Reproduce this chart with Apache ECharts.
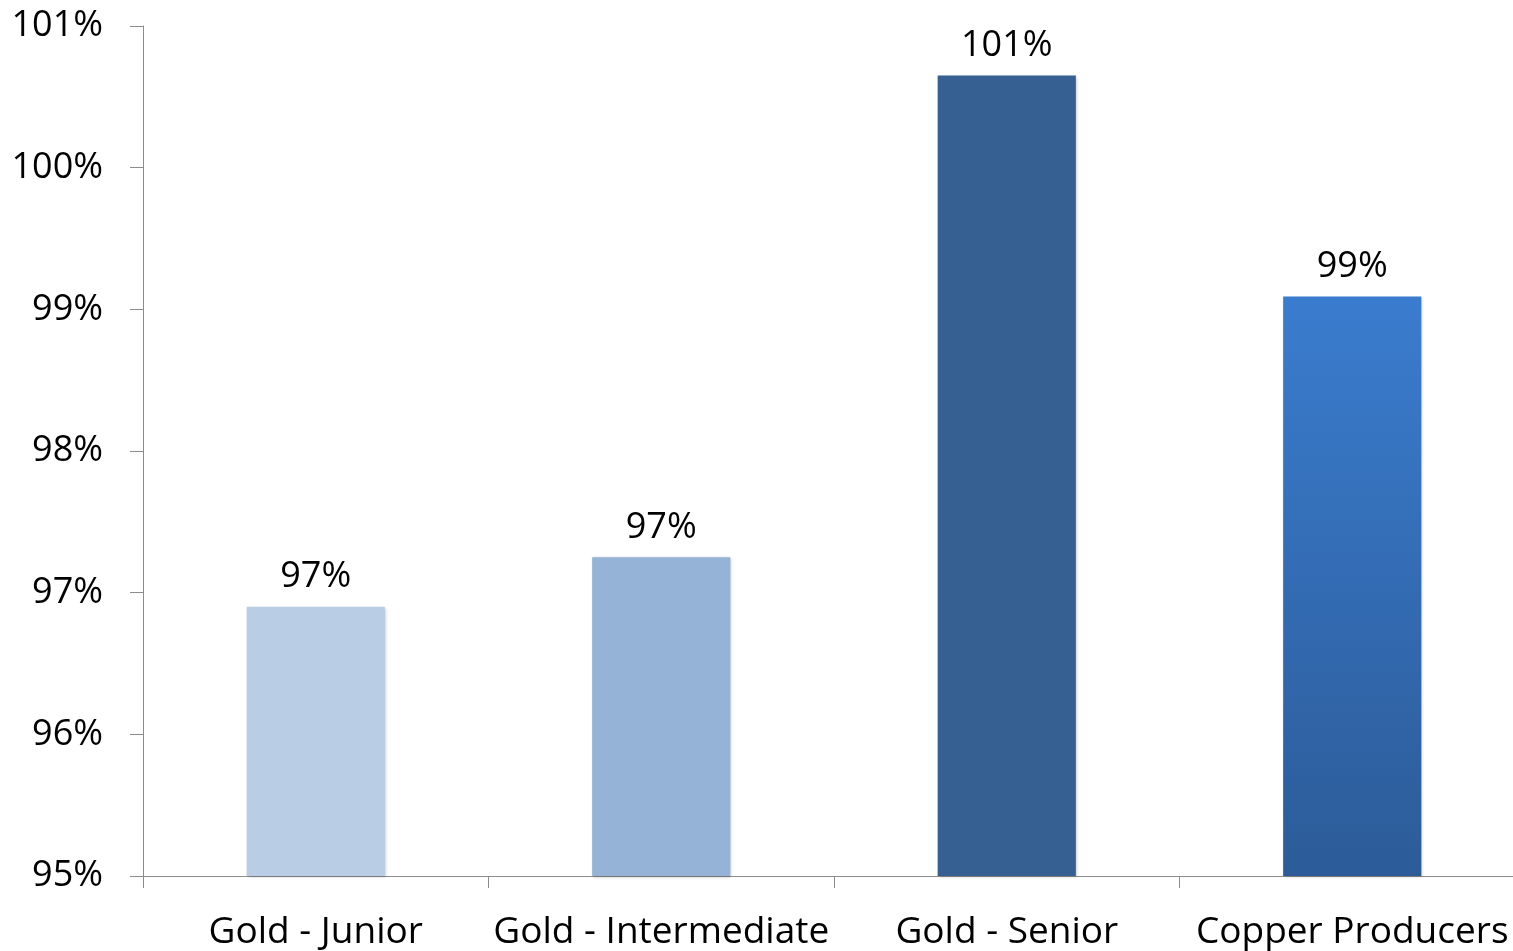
<!DOCTYPE html>
<html>
<head>
<meta charset="utf-8">
<script src="https://cdn.jsdelivr.net/npm/echarts@6/dist/echarts.min.js"></script>
<style>
html,body{margin:0;padding:0;background:#fff;overflow:hidden;}
#chart{width:1525px;height:951px;}
</style>
</head>
<body>
<div id="chart"></div>
<script>
const categories = ["Gold - Junior", "Gold - Intermediate", "Gold - Senior", "Copper Producers"];
const values = [96.90, 97.25, 100.65, 99.09];
const yTicks = [95, 96, 97, 98, 99, 100, 101];

const colors = [
  '#B9CDE5',
  '#95B3D7',
  '#376092',
  {type:'linear', x:0, y:0, x2:0, y2:1, colorStops:[{offset:0,color:'#3A7CCE'},{offset:1,color:'#2C5B98'}]}
];

const chart = echarts.init(document.getElementById('chart'));
const font = '"Open Sans", sans-serif';
chart.setOption({
  animation: false,
  grid: {left: 143, right: 0, top: 26, bottom: 75, containLabel: false},
  xAxis: {
    type: 'category',
    data: categories,
    axisLine: {lineStyle: {color: '#8C8C8C', width: 1}},
    axisTick: {show: true, alignWithLabel: false, length: 12, lineStyle: {color: '#8C8C8C'}},
    axisLabel: {color: '#000', fontFamily: font, fontSize: 37, margin: 38, interval: 0}
  },
  yAxis: {
    type: 'value',
    min: yTicks[0], max: yTicks[yTicks.length-1], interval: 1,
    splitLine: {show: false},
    axisLine: {show: true, lineStyle: {color: '#8C8C8C', width: 1}},
    axisTick: {show: true, length: 13, lineStyle: {color: '#8C8C8C'}},
    axisLabel: {color: '#000', fontFamily: font, fontSize: 36, margin: 40, align: 'right',
      padding: [6, 0, 0, 0],
      formatter: v => v + '%'}
  },
  series: [{
    type: 'bar',
    barWidth: '40%',
    data: values.map((v, i) => ({value: v, itemStyle: {color: colors[i]}})),
    itemStyle: {shadowColor: 'rgba(0,0,0,0.25)', shadowBlur: 3, shadowOffsetX: 1, shadowOffsetY: 1},
    label: {show: true, position: 'top', distance: 12, color: '#000', fontFamily: font, fontSize: 36,
      formatter: p => Math.round(p.value) + '%'}
  }]
});
</script>
</body>
</html>
